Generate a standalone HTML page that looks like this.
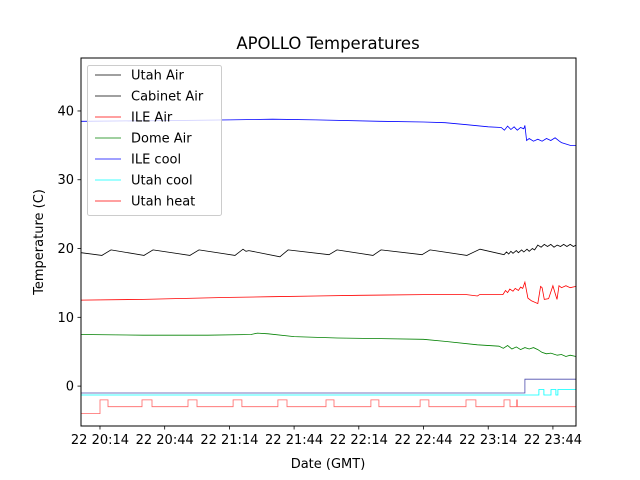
<!DOCTYPE html>
<html><head><meta charset="utf-8"><style>
body{margin:0;background:#fff;}
svg{display:block;font-family:"DejaVu Sans","Liberation Sans",sans-serif;}
</style></head><body>
<svg id="chart" width="640" height="480" viewBox="0 0 640 480" xmlns="http://www.w3.org/2000/svg">
<rect x="0" y="0" width="640" height="480" fill="#fff"/>
<text x="328" y="49" font-size="16.5" text-anchor="middle">APOLLO Temperatures</text>
<text x="328" y="468" font-size="13" text-anchor="middle">Date (GMT)</text>
<text transform="translate(43,242) rotate(-90)" font-size="13" text-anchor="middle">Temperature (C)</text>
<g id="plot"></g>
<g id="axes"></g>
<g id="legend"></g>
</svg>
<script>
// x in minutes since 22 20:14
const xTickLabels = ["22 20:14","22 20:44","22 21:14","22 21:44","22 22:14","22 22:44","22 23:14","22 23:44"];
const xTickMinutes = [0,30,60,90,120,150,180,210];
const yTicks = [0,10,20,30,40];
const utahAirT = [-8.8,0.9,5.1,20.4,24.6,41.7,45.9,62.6,66.3,67.7,69,83.4,87.2,106.2,109.9,126.6,130.3,149.3,153,170.1,176.2,187.3,188.5,189.5,190.5,191.5,193,194,195.5,196.5,198,199,200.5,201.5,203,204.5,206,207.5,209,210.5,212,213.5,215,216.5,218,219.5,220.7];
const utahAirV = [19.4,19.0,19.8,19.0,19.8,19.0,19.8,19.0,19.9,19.6,19.7,18.8,19.8,19.1,19.8,19.0,19.8,19.1,19.8,19.0,19.9,19.1,19.5,19.2,19.6,19.3,19.7,19.4,19.8,19.5,19.9,19.6,20.0,19.8,20.5,20.2,20.6,20.3,20.6,20.2,20.5,20.3,20.6,20.3,20.6,20.3,20.5];
const ileAirT = [-8.8,20,60,80,100,120,150,170,175,176,186.8,188,189,190,191.5,192.5,194,195,196,197,198.4,200,203,204.3,205,206,208,210,211,211.9,212.8,214,216,218,220.7];
const ileAirV = [12.5,12.6,12.9,13.0,13.1,13.2,13.3,13.3,13.1,13.3,13.3,13.9,13.6,14.1,13.8,14.2,13.9,14.4,14.2,15.1,12.8,12.4,12.0,14.5,14.3,12.6,12.7,14.6,13.5,12.6,14.6,14.3,14.6,14.3,14.5];
const domeAirT = [-8.8,20,50,70,73,78,90,110,130,150,160,175,185,187,189,191,193,195,197,199,201,203,205,207,209,212,214,216,218,220.7];
const domeAirV = [7.5,7.4,7.4,7.5,7.7,7.6,7.2,7.0,6.9,6.8,6.5,6.0,5.8,5.5,5.9,5.4,5.7,5.3,5.6,5.4,5.6,5.3,4.9,4.7,4.8,4.5,4.6,4.3,4.5,4.3];
const ileCoolT = [-8.8,30,60,80,100,130,150,160,170,180,186,187.5,189,190.5,192,193.5,195,196.5,197,197.8,199,201,203,205,207,209,211,213,214,216,218,220.7];
const ileCoolV = [38.5,38.6,38.7,38.8,38.7,38.5,38.4,38.3,38.0,37.7,37.6,37.2,37.8,37.3,37.7,37.2,37.6,37.4,37.9,35.7,36.0,35.6,35.9,35.6,36.0,35.7,36.1,35.6,35.4,35.2,35.0,35.0];
const ileCoolStepT = [-8.8,197,220.7];
const ileCoolStepV = [-1,1,1];
const utahCoolStepT = [-8.8,203.5,205.8,209.1,211.4,212.3,220.7];
const utahCoolStepV = [-1.3,-0.5,-1.3,-0.5,-1.3,-0.5,-0.5];
const heatStepT = [-8.8,0,3.7,19.5,24.1,40.8,45,61.7,65.8,82.5,86.7,104.8,108.5,125.6,129.3,148.4,152.5,169.7,174.3,187.3,190.1,193.2,193.5,220.7];
const heatStepV = [-4,-2,-3,-2,-3,-2,-3,-2,-3,-2,-3,-2,-3,-2,-3,-2,-3,-2,-3,-2,-3,-2,-3,-3];

const L=81,R=576,T=58,B=426;
const xMin=-8.8,xMax=220.7,yMin=-5.8,yMax=47.7;
function sx(t){return L+(t-xMin)/(xMax-xMin)*(R-L);}
function sy(v){return B-(v-yMin)/(yMax-yMin)*(B-T);}
const NS="http://www.w3.org/2000/svg";
const plot=document.getElementById('plot'),axes=document.getElementById('axes'),legend=document.getElementById('legend');
function mk(tag,attrs,parent){const e=document.createElementNS(NS,tag);for(const k in attrs)e.setAttribute(k,attrs[k]);parent.appendChild(e);return e;}
function lineSeries(ts,vs,color,name,op,step){
  let d="";
  for(let i=0;i<ts.length;i++){
    const x=sx(ts[i]).toFixed(1),y=sy(vs[i]).toFixed(1);
    if(i===0)d+="M"+x+","+y;
    else if(step){d+="L"+x+","+sy(vs[i-1]).toFixed(1)+"L"+x+","+y;}
    else d+="L"+x+","+y;
  }
  const p=mk('path',{d:d,fill:'none',stroke:color,'stroke-width':0.8,'stroke-opacity':op},plot);
  
  
}
lineSeries(utahAirT,utahAirV,'#000','utah-air-line',1,false);
lineSeries(ileAirT,ileAirV,'#f00','ile-air-line',1,false);
lineSeries(domeAirT,domeAirV,'#008000','dome-air-line',1,false);
lineSeries(ileCoolT,ileCoolV,'#00f','ile-cool-line',1,false);
lineSeries(ileCoolStepT,ileCoolStepV,'#00008b','ile-cool-step',0.7,true);
lineSeries(utahCoolStepT,utahCoolStepV,'#0ff','utah-cool-step',1,true);
lineSeries(heatStepT,heatStepV,'#f00','utah-heat-step',0.6,true);
mk('rect',{x:L,y:T,width:R-L,height:B-T,fill:'none',stroke:'#000','stroke-width':1},axes);
xTickMinutes.forEach((m,i)=>{
  const x=sx(m);
  const tk=mk('line',{x1:x,y1:B,x2:x,y2:B+3.5,stroke:'#000','stroke-width':0.8},axes);
  
  
  const t=mk('text',{x:x,y:B+18,'font-size':13,'text-anchor':'middle'},axes);
  t.textContent=xTickLabels[i];
  
  
});
yTicks.forEach(v=>{
  const y=sy(v);
  const tk=mk('line',{x1:L,y1:y,x2:L-3.5,y2:y,stroke:'#000','stroke-width':0.8},axes);
  
  
  const t=mk('text',{x:L-7,y:y+4.5,'font-size':13,'text-anchor':'end'},axes);
  t.textContent=String(v);
  
  
});
const legNames=["Utah Air","Cabinet Air","ILE Air","Dome Air","ILE cool","Utah cool","Utah heat"];
const legColors=["#000","#000","#f00","#008000","#00f","#0ff","#f00"];
const lb=mk('rect',{x:87.5,y:65.5,width:134,height:150,rx:2,fill:'#fff','fill-opacity':0.8,stroke:'#ccc','stroke-width':1},legend);


legNames.forEach((n,i)=>{
  const y=75+i*21;
  const ln=mk('line',{x1:95,y1:y,x2:121,y2:y,stroke:legColors[i],'stroke-width':0.8},legend);
  
  
  const t=mk('text',{x:131,y:y+4.5,'font-size':13},legend);
  t.textContent=n;
  
  
});
</script>
</body></html>
